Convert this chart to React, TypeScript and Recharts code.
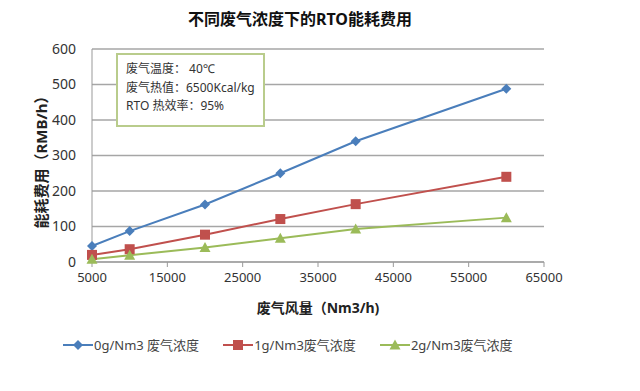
import { LineChart, Line, XAxis, YAxis, CartesianGrid, Legend } from "recharts";

const flowRates = [5000, 10000, 20000, 30000, 40000, 60000];
const cost0g = [45, 87, 162, 250, 340, 488];
const cost1g = [20, 36, 77, 121, 163, 240];
const cost2g = [8, 19, 41, 67, 93, 125];
const xTicks = [5000, 15000, 25000, 35000, 45000, 55000, 65000];
const yTicks = [0, 100, 200, 300, 400, 500, 600];

const seriesNames = ["0g/Nm3 废气浓度", "1g/Nm3废气浓度", "2g/Nm3废气浓度"];
const seriesColors = ["#4a7ebb", "#c0504d", "#9bbb59"];

const data = flowRates.map((x, i) => ({
  x,
  s0: cost0g[i],
  s1: cost1g[i],
  s2: cost2g[i],
}));

const FONT = "'Noto Sans', 'Noto Sans CJK SC', sans-serif";

const Diamond = (props: any) => {
  const { cx, cy, fill } = props;
  if (cx == null || cy == null) return null;
  return <path d={`M${cx},${cy - 5}L${cx + 5},${cy}L${cx},${cy + 5}L${cx - 5},${cy}Z`} fill={fill} />;
};

const Square = (props: any) => {
  const { cx, cy, fill } = props;
  if (cx == null || cy == null) return null;
  return <rect x={cx - 5} y={cy - 5} width={10} height={10} fill={fill} />;
};

const Triangle = (props: any) => {
  const { cx, cy, fill } = props;
  if (cx == null || cy == null) return null;
  return <path d={`M${cx},${cy - 5.5}L${cx + 5.5},${cy + 4.5}L${cx - 5.5},${cy + 4.5}Z`} fill={fill} />;
};

const markers = [Diamond, Square, Triangle];

const LegendContent = () => (
  <div style={{ display: "flex", alignItems: "center", fontFamily: FONT, fontSize: 13, color: "#444" }}>
    {seriesNames.map((name, i) => {
      const M = markers[i];
      return (
        <div key={name} style={{ display: "flex", alignItems: "center", marginLeft: i === 0 ? 63 : 24 }}>
          <svg width={30} height={12}>
            <line x1={0} y1={6} x2={30} y2={6} stroke={seriesColors[i]} strokeWidth={2} />
            <M cx={15} cy={6} fill={seriesColors[i]} />
          </svg>
          <span style={{ marginLeft: 1 }}>{name}</span>
        </div>
      );
    })}
  </div>
);

export default function App() {
  return (
    <div style={{ position: "relative", width: 640, height: 391, background: "#fff", fontFamily: FONT }}>
      <style>{`body{margin:0}`}</style>
      <div
        style={{
          position: "absolute",
          top: 6,
          left: 0,
          width: 600,
          textAlign: "center",
          fontSize: 16,
          fontWeight: "bold",
          color: "#111",
        }}
      >
        不同废气浓度下的RTO能耗费用
      </div>
      <LineChart width={640} height={391} data={data} margin={{ top: 49, right: 96, left: 32, bottom: 99 }}>
        <CartesianGrid horizontal vertical={false} stroke="#a6a6a6" strokeWidth={1.3} />
        <XAxis
          dataKey="x"
          type="number"
          domain={[5000, 65000]}
          ticks={xTicks}
          interval={0}
          height={30}
          stroke="#999"
          tickSize={5}
          tick={{ fill: "#333", fontSize: 13, fontFamily: FONT }}
          tickMargin={6}
          label={{
            value: "废气风量（Nm3/h)",
            position: "insideBottom",
            offset: -21,
            style: { fontWeight: "bold", fontSize: 14, fill: "#222", fontFamily: FONT },
          }}
        />
        <YAxis
          domain={[0, 600]}
          ticks={yTicks}
          interval={0}
          width={60}
          stroke="#999"
          tickLine={false}
          tick={{ fill: "#333", fontSize: 14, fontFamily: FONT }}
          tickMargin={10}
          label={{
            value: "能耗费用（RMB/h）",
            angle: -90,
            position: "insideLeft",
            offset: 10,
            dy: 73,
            style: { fontWeight: "bold", fontSize: 15, fill: "#222", fontFamily: FONT },
          }}
        />
        <Legend verticalAlign="middle" wrapperStyle={{ top: 335, left: 0, width: 640 }} content={<LegendContent />} />
        <Line dataKey="s0" name={seriesNames[0]} stroke={seriesColors[0]} strokeWidth={2} dot={<Diamond fill={seriesColors[0]} />} isAnimationActive={false} />
        <Line dataKey="s1" name={seriesNames[1]} stroke={seriesColors[1]} strokeWidth={2} dot={<Square fill={seriesColors[1]} />} isAnimationActive={false} />
        <Line dataKey="s2" name={seriesNames[2]} stroke={seriesColors[2]} strokeWidth={2} dot={<Triangle fill={seriesColors[2]} />} isAnimationActive={false} />
      </LineChart>
      <div
        style={{
          position: "absolute",
          left: 116,
          top: 53,
          width: 149,
          height: 74,
          border: "2px solid #b9cc8c",
          background: "#fff",
          fontSize: 12,
          color: "#333",
          lineHeight: "18.5px",
          padding: "5px 0 0 8px",
          boxSizing: "border-box",
          whiteSpace: "nowrap",
        }}
      >
        <div>废气温度：&nbsp;40℃</div>
        <div>废气热值：6500Kcal/kg</div>
        <div>RTO 热效率：95%</div>
      </div>
    </div>
  );
}
